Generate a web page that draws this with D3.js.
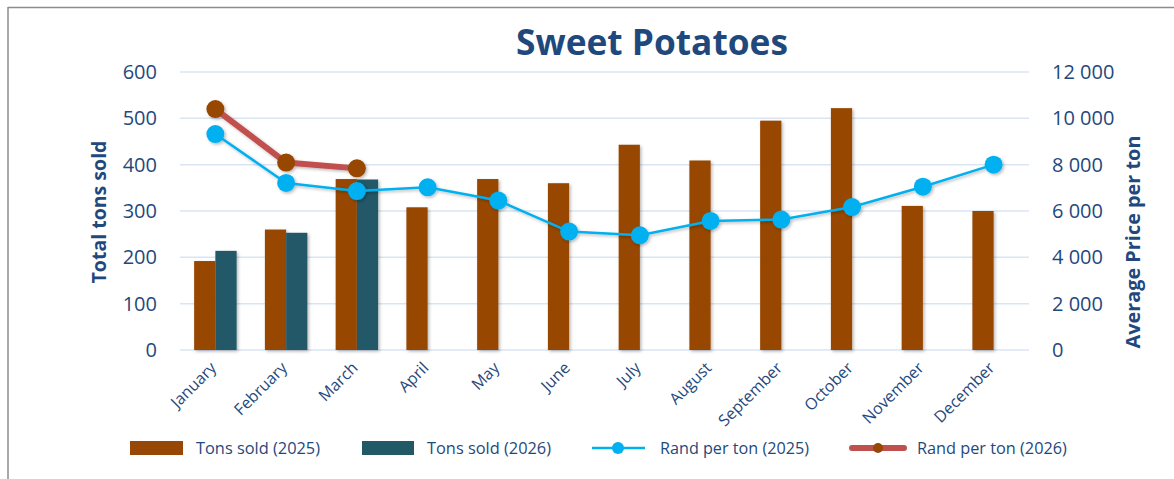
<!DOCTYPE html>
<html><head><meta charset="utf-8">
<script src="https://cdn.jsdelivr.net/npm/d3@7"></script>
<style>
html,body{margin:0;padding:0;background:#fff;}
svg{display:block;font-family:"Open Sans","Noto Sans",sans-serif;}
</style></head>
<body><svg id="c" width="1174" height="479"></svg>
<script>
const months = ["January","February","March","April","May","June","July","August","September","October","November","December"];
const tons2025 = [192, 260, 369, 308, 369, 360, 443, 409, 495, 522, 311, 300];
const tons2026 = [214, 253, 368];
const price2025 = [9320, 7210, 6860, 7020, 6450, 5110, 4950, 5570, 5630, 6170, 7050, 8000];
const price2026 = [10400, 8090, 7840];
const leftTicks = [0, 100, 200, 300, 400, 500, 600];
const rightTicks = [0, 2000, 4000, 6000, 8000, 10000, 12000];
const seriesNames = ["Tons sold (2025)", "Tons sold (2026)", "Rand per ton (2025)", "Rand per ton (2026)"];

const C = {brown:"#974706", teal:"#215967", blue:"#00B0F0", red:"#C0504D", text:"#1F497D", grid:"#DAE5F3", border:"#8C8C8C"};
const svg = d3.select("#c");
const L = 180, R = 1029, T = 72, B = 350;

const defs = svg.append("defs");
const f = defs.append("filter").attr("id","sh").attr("x","-30%").attr("y","-30%").attr("width","160%").attr("height","160%");
f.append("feDropShadow").attr("dx",1.5).attr("dy",1.5).attr("stdDeviation",1.5).attr("flood-color","#000").attr("flood-opacity",0.28);

// border
svg.append("line").attr("x1",8).attr("x2",1174).attr("y1",7.5).attr("y2",7.5).attr("stroke",C.border).attr("stroke-width",1.5);
svg.append("line").attr("x1",8).attr("x2",8).attr("y1",7).attr("y2",479).attr("stroke",C.border).attr("stroke-width",1.5);

const x0 = d3.scaleBand().domain(months).range([L, R]).paddingInner(0.4).paddingOuter(0.2);
const x1 = d3.scaleBand().domain(["2025","2026"]).range([0, x0.bandwidth()]);
const yL = d3.scaleLinear().domain([0, 600]).range([B, T]);
const yR = d3.scaleLinear().domain([0, 12000]).range([B, T]);
const cx = m => x0(m) + x0.bandwidth()/2;

// gridlines
svg.append("g").selectAll("line").data(leftTicks).join("line")
  .attr("x1", L).attr("x2", R).attr("y1", d=>yL(d)).attr("y2", d=>yL(d))
  .attr("stroke", C.grid).attr("stroke-width", 1.5);

// left axis
const gl = svg.append("g").attr("transform",`translate(${L},0)`)
  .call(d3.axisLeft(yL).tickValues(leftTicks).tickSize(0).tickPadding(23));
gl.select(".domain").remove();
gl.selectAll("text").attr("fill",C.text).style("font-size","20px").style("font-family",'"Open Sans",sans-serif');

// right axis
const fmt = d => d3.format(",")(d).replace(/,/g, " ");
const gr = svg.append("g").attr("transform",`translate(${R},0)`)
  .call(d3.axisRight(yR).tickValues(rightTicks).tickSize(0).tickPadding(23).tickFormat(fmt));
gr.select(".domain").remove();
gr.selectAll("text").attr("fill",C.text).style("font-size","20px").style("font-family",'"Open Sans",sans-serif');

// bars
const bars = svg.append("g").attr("filter","url(#sh)");
bars.selectAll("rect.b25").data(tons2025).join("rect").attr("class","b25")
  .attr("x",(d,i)=>x0(months[i])+x1("2025")).attr("width",x1.bandwidth())
  .attr("y",d=>yL(d)).attr("height",d=>B-yL(d)).attr("fill",C.brown);
bars.selectAll("rect.b26").data(tons2026).join("rect").attr("class","b26")
  .attr("x",(d,i)=>x0(months[i])+x1("2026")).attr("width",x1.bandwidth())
  .attr("y",d=>yL(d)).attr("height",d=>B-yL(d)).attr("fill",C.teal);

// lines
const line = d3.line().x((d,i)=>cx(months[i])).y(d=>yR(d));
const lg = svg.append("g").attr("filter","url(#sh)");
lg.append("path").datum(price2025).attr("d",line).attr("fill","none").attr("stroke",C.blue).attr("stroke-width",2.5);
lg.selectAll("circle.p25").data(price2025).join("circle").attr("class","p25")
  .attr("cx",(d,i)=>cx(months[i])).attr("cy",d=>yR(d)).attr("r",9).attr("fill",C.blue);
lg.append("path").datum(price2026).attr("d",line).attr("fill","none").attr("stroke",C.red).attr("stroke-width",6).attr("stroke-linejoin","round");
lg.selectAll("circle.p26").data(price2026).join("circle").attr("class","p26")
  .attr("cx",(d,i)=>cx(months[i])).attr("cy",d=>yR(d)).attr("r",9).attr("fill",C.brown);

// x labels
svg.append("g").selectAll("text").data(months).join("text")
  .attr("transform", m=>`translate(${cx(m)-6},${361}) rotate(-45)`)
  .attr("text-anchor","end").attr("dy","0.7em")
  .attr("fill",C.text).style("font-size","16px").text(d=>d);

// helper: fit text to width
function fit(sel, w){
  const n = sel.node(); let fs = parseFloat(sel.style("font-size"));
  const cw = n.getComputedTextLength(); sel.style("font-size", (fs*w/cw).toFixed(2)+"px");
}

// title
const title = svg.append("text").attr("x",652).attr("y",55).attr("text-anchor","middle")
  .attr("fill",C.text).style("font-weight","bold").style("font-size","36px").text("Sweet Potatoes");
fit(title, 272);

// axis titles
const lt = svg.append("text").attr("transform","translate(106,212) rotate(-90)").attr("text-anchor","middle")
  .attr("fill",C.text).style("font-weight","bold").style("font-size","19px").text("Total tons sold");
fit(lt, 143);
const rt = svg.append("text").attr("transform","translate(1140,242) rotate(-90)").attr("text-anchor","middle")
  .attr("fill",C.text).style("font-weight","bold").style("font-size","19px").text("Average Price per ton");
fit(rt, 213);

// legend
const leg = svg.append("g");
const ly = 448;
leg.append("rect").attr("x",130).attr("y",ly-7).attr("width",53).attr("height",14).attr("fill",C.brown);
leg.append("rect").attr("x",362).attr("y",ly-7).attr("width",52).attr("height",14).attr("fill",C.teal);
leg.append("line").attr("x1",592).attr("x2",645).attr("y1",ly).attr("y2",ly).attr("stroke",C.blue).attr("stroke-width",2.5);
leg.append("circle").attr("cx",618).attr("cy",ly).attr("r",6).attr("fill",C.blue);
leg.append("line").attr("x1",852).attr("x2",904).attr("y1",ly).attr("y2",ly).attr("stroke",C.red).attr("stroke-width",6).attr("stroke-linecap","round");
leg.append("circle").attr("cx",878).attr("cy",ly).attr("r",5).attr("fill",C.brown);
const lx = [196, 427, 660, 917], lw = [124, 124, 149, 150];
seriesNames.forEach((s,i)=>{
  const t = leg.append("text").attr("x",lx[i]).attr("y",ly).attr("dy","0.35em")
    .attr("fill",C.text).style("font-size","15px").text(s);
  fit(t, lw[i]);
});
</script></body></html>
